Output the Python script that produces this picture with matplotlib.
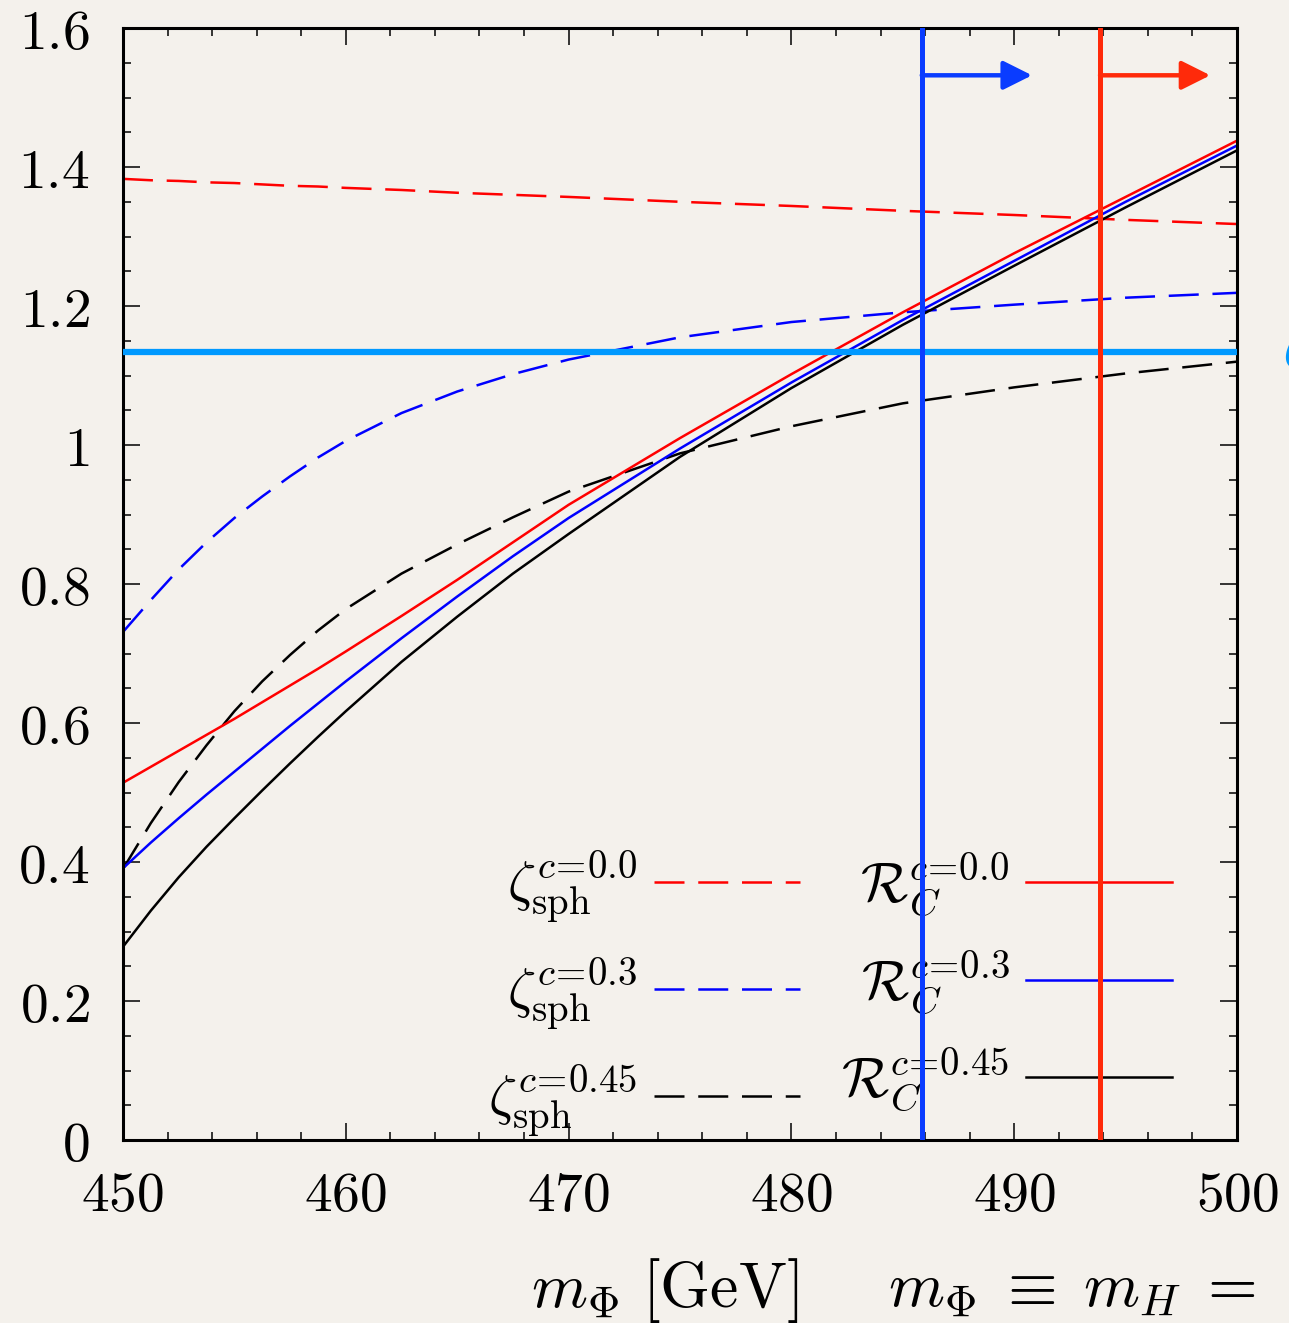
import matplotlib
matplotlib.use("Agg")
import matplotlib.pyplot as plt
from matplotlib.ticker import MultipleLocator, FuncFormatter

plt.rcParams['mathtext.fontset'] = 'cm'
plt.rcParams['font.family'] = ['DejaVu Serif']

m_phi = [450, 451.25, 452.5, 453.75, 455, 456.25, 457.5, 458.75, 460,
         462.5, 465, 467.5, 470, 475, 480, 485, 490, 495, 500]

zeta_c00 = [1.383, 1.381, 1.380, 1.378, 1.377, 1.375, 1.373, 1.372, 1.370,
            1.367, 1.363, 1.360, 1.357, 1.350, 1.344, 1.337, 1.331, 1.324, 1.318]
zeta_c03 = [0.731, 0.777, 0.821, 0.860, 0.895, 0.926, 0.955, 0.982, 1.006,
            1.046, 1.077, 1.102, 1.123, 1.155, 1.177, 1.191, 1.202, 1.212, 1.219]
zeta_c045 = [0.390, 0.456, 0.515, 0.568, 0.617, 0.660, 0.698, 0.733, 0.764,
             0.815, 0.857, 0.896, 0.933, 0.988, 1.027, 1.060, 1.083, 1.103, 1.120]

R_c00 = [0.514, 0.537, 0.560, 0.583, 0.606, 0.630, 0.654, 0.678, 0.703,
         0.754, 0.806, 0.860, 0.914, 1.010, 1.102, 1.191, 1.276, 1.357, 1.438]
R_c03 = [0.391, 0.428, 0.463, 0.497, 0.530, 0.563, 0.596, 0.628, 0.660,
         0.722, 0.782, 0.840, 0.895, 0.995, 1.090, 1.180, 1.265, 1.350, 1.431]
R_c045 = [0.278, 0.330, 0.378, 0.422, 0.463, 0.503, 0.542, 0.580, 0.617,
          0.688, 0.753, 0.815, 0.872, 0.983, 1.082, 1.173, 1.258, 1.342, 1.424]

zeta_ref = 1.134      # horizontal reference line
m_lim_c03 = 485.85    # blue vertical bound
m_lim_c00 = 493.85    # red vertical bound
arrow_y = 1.532
arrow_len = 4.95

bg = '#f4f1ec'
fig = plt.figure(figsize=(12.89, 13.23), dpi=100, facecolor=bg)
ax = fig.add_axes([0.0954, 0.1383, 0.8643, 0.8405], facecolor=bg)

dash = (12, 5.5)
lw = 1.8
ax.plot(m_phi, zeta_c00, color='#ff0000', lw=lw, dashes=dash, label=r'$\zeta_{\rm sph}^{c\!=\!0.0}$')
ax.plot(m_phi, zeta_c03, color='#0000ff', lw=lw, dashes=dash, label=r'$\zeta_{\rm sph}^{c\!=\!0.3}$')
ax.plot(m_phi, zeta_c045, color='black', lw=lw, dashes=dash, label=r'$\zeta_{\rm sph}^{c\!=\!0.45}$')
ax.plot(m_phi, R_c00, color='#ff0000', lw=lw, label=r'$\mathcal{R}_C^{c\!=\!0.0}$')
ax.plot(m_phi, R_c03, color='#0000ff', lw=lw, label=r'$\mathcal{R}_C^{c\!=\!0.3}$')
ax.plot(m_phi, R_c045, color='black', lw=lw, label=r'$\mathcal{R}_C^{c\!=\!0.45}$')

ax.axhline(zeta_ref, color='#0099ff', lw=4.5, zorder=6)
ax.axvline(m_lim_c03, color='#0a3cff', lw=3.6, zorder=7)
ax.axvline(m_lim_c00, color='#ff2a0a', lw=3.6, zorder=7)
for xv, c in [(m_lim_c03, '#0a3cff'), (m_lim_c00, '#ff2a0a')]:
    ax.annotate('', xy=(xv + arrow_len, arrow_y), xytext=(xv, arrow_y),
                arrowprops=dict(arrowstyle='-|>', color=c, lw=3.2, mutation_scale=44,
                                shrinkA=0, shrinkB=0), zorder=7)

ax.text(502.0, zeta_ref, r'$\zeta$', color='#0099ff', fontsize=46, va='center', ha='left', clip_on=False)

ax.set_xlim(450, 500)
ax.set_ylim(0, 1.6)
ax.xaxis.set_major_locator(MultipleLocator(10))
ax.xaxis.set_minor_locator(MultipleLocator(2))
ax.yaxis.set_major_locator(MultipleLocator(0.2))
ax.yaxis.set_minor_locator(MultipleLocator(0.05))
fmt = FuncFormatter(lambda v, p: '$%g$' % round(v, 2))
ax.xaxis.set_major_formatter(fmt)
ax.yaxis.set_major_formatter(fmt)
ax.tick_params(which='both', direction='in', top=True, right=True, labelsize=40, width=1.1)
ax.tick_params(which='major', length=12)
ax.tick_params(which='minor', length=6)
ax.tick_params(axis='x', pad=20)
ax.tick_params(axis='y', pad=24)
for s in ax.spines.values():
    s.set_linewidth(2.2)

leg = ax.legend(ncol=2, markerfirst=False, frameon=False, fontsize=40,
                handlelength=2.63, handletextpad=0.3, columnspacing=0.75,
                labelspacing=0.54, borderpad=0, borderaxespad=0, loc='center right',
                bbox_to_anchor=(0.9417, 0.130))
leg.set_zorder(3)

fig.text(0.516, 0.012, r'$m_\Phi\ [\mathrm{GeV}]$', fontsize=46, ha='center', va='baseline')
fig.text(0.689, 0.012, r'$m_\Phi\;\equiv\;m_H\;=$', fontsize=46, ha='left', va='baseline')

fig.savefig('out.png', dpi=100, facecolor=bg)
